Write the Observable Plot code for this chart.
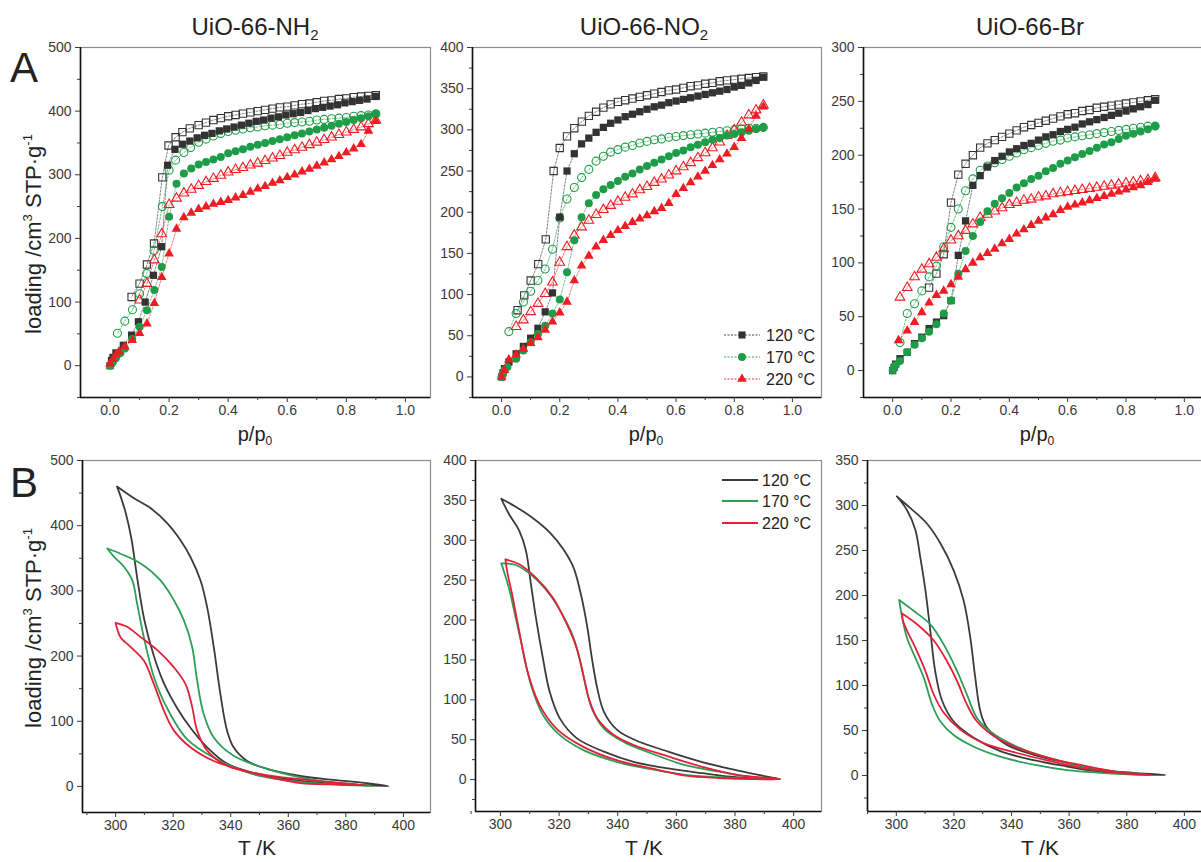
<!DOCTYPE html>
<html><head><meta charset="utf-8">
<script src="https://cdn.jsdelivr.net/npm/d3@7"></script>
<script src="https://cdn.jsdelivr.net/npm/@observablehq/plot@0.6"></script>
<style>
body{margin:0;background:#fff;}
#fig{position:relative;width:1201px;height:862px;overflow:hidden;background:#fff;font-family:"Liberation Sans",Arial,sans-serif;}
</style></head>
<body><div id="fig"></div>
<script>
// ---------- DATA: isotherms (p/p0, loading) ----------
const nh2_120_ads=[[0,0],[0.005,8],[0.01,13],[0.02,20],[0.045,32],[0.073,48],[0.096,69],[0.119,100],[0.147,142],[0.175,187],[0.195,315],[0.22,340],[0.245,348],[0.27,353],[0.295,358],[0.32,362],[0.345,365],[0.37,369],[0.395,372],[0.42,375],[0.445,378],[0.47,381],[0.495,384],[0.52,386],[0.545,389],[0.57,391],[0.595,394],[0.62,396],[0.645,398],[0.67,401],[0.695,404],[0.72,406],[0.745,408],[0.77,410],[0.795,413],[0.82,415],[0.845,417],[0.87,419],[0.9,423]];
const nh2_120_des=[[0.9,425],[0.875,424],[0.85,423],[0.825,422],[0.8,420],[0.775,419],[0.75,417],[0.725,416],[0.7,414],[0.675,412],[0.65,411],[0.625,409],[0.6,407],[0.575,406],[0.55,404],[0.525,402],[0.5,400],[0.475,398],[0.45,396],[0.425,394],[0.4,392],[0.375,389],[0.35,386],[0.325,382],[0.3,378],[0.27,373],[0.245,367],[0.222,359],[0.198,346],[0.177,296],[0.149,192],[0.125,159],[0.1,129],[0.073,108]];
const nh2_170_ads=[[0,0],[0.005,3],[0.01,6],[0.02,12],[0.035,20],[0.05,27],[0.075,42],[0.1,61],[0.125,87],[0.15,119],[0.175,155],[0.2,234],[0.225,286],[0.25,302],[0.275,310],[0.3,316],[0.325,320],[0.35,324],[0.375,328],[0.4,334],[0.425,337],[0.45,340],[0.475,344],[0.5,347],[0.525,350],[0.55,353],[0.575,356],[0.6,359],[0.625,362],[0.65,365],[0.675,368],[0.7,371],[0.725,374],[0.75,377],[0.775,380],[0.8,383],[0.825,386],[0.85,389],[0.875,392],[0.9,396]];
const nh2_170_des=[[0.9,396],[0.875,394],[0.85,393],[0.825,392],[0.8,390],[0.775,389],[0.75,388],[0.725,387],[0.7,386],[0.675,384],[0.65,383],[0.625,382],[0.6,381],[0.575,379],[0.55,378],[0.525,377],[0.5,375],[0.475,374],[0.45,372],[0.425,370],[0.4,368],[0.375,365],[0.35,361],[0.325,356],[0.3,351],[0.273,343],[0.25,335],[0.222,323],[0.2,307],[0.177,250],[0.149,181],[0.124,145],[0.1,113],[0.076,88],[0.05,70],[0.025,51]];
const nh2_220_ads=[[0,3],[0.01,10],[0.02,17],[0.03,22],[0.05,30],[0.075,40],[0.1,51],[0.125,66],[0.15,98],[0.175,139],[0.2,176],[0.225,215],[0.25,233],[0.275,240],[0.3,246],[0.325,250],[0.35,254],[0.375,257],[0.4,260],[0.425,264],[0.45,268],[0.475,273],[0.5,278],[0.525,282],[0.55,287],[0.575,291],[0.6,296],[0.625,300],[0.65,305],[0.675,309],[0.7,314],[0.725,319],[0.75,324],[0.775,329],[0.8,335],[0.825,341],[0.85,348],[0.875,369],[0.9,384]];
const nh2_220_des=[[0.9,386],[0.875,380],[0.85,375],[0.825,371],[0.8,367],[0.775,363],[0.75,359],[0.725,355],[0.7,351],[0.675,347],[0.65,343],[0.625,339],[0.6,335],[0.575,330],[0.55,326],[0.525,322],[0.5,318],[0.475,315],[0.45,311],[0.425,308],[0.4,304],[0.375,299],[0.35,294],[0.325,289],[0.3,283],[0.275,277],[0.25,271],[0.225,263],[0.2,253],[0.175,207],[0.15,166],[0.125,129],[0.1,103]];

const no2_120_ads=[[0,0],[0.005,5],[0.01,10],[0.025,18],[0.05,28],[0.075,37],[0.1,47],[0.125,59],[0.15,79],[0.175,102],[0.2,194],[0.225,250],[0.25,271],[0.275,283],[0.3,290],[0.325,297],[0.35,303],[0.375,308],[0.4,312],[0.425,316],[0.45,319],[0.475,322],[0.5,325],[0.525,328],[0.55,330],[0.575,333],[0.6,335],[0.625,337],[0.65,339],[0.675,341],[0.7,343],[0.725,345],[0.75,347],[0.775,349],[0.8,352],[0.825,354],[0.85,357],[0.875,360],[0.9,364]];
const no2_120_des=[[0.9,365],[0.875,364],[0.85,363],[0.825,362],[0.8,361],[0.775,360],[0.75,359],[0.725,357],[0.7,356],[0.675,354],[0.65,353],[0.625,351],[0.6,349],[0.575,348],[0.55,346],[0.525,344],[0.5,342],[0.475,340],[0.45,338],[0.425,336],[0.4,334],[0.375,331],[0.35,327],[0.325,322],[0.3,317],[0.276,310],[0.25,302],[0.225,292],[0.2,278],[0.179,250],[0.152,167],[0.126,137],[0.1,117],[0.078,99],[0.055,81]];
const no2_170_ads=[[0,0],[0.005,4],[0.01,8],[0.02,12],[0.05,22],[0.075,32],[0.1,42],[0.125,52],[0.15,62],[0.175,77],[0.2,94],[0.225,127],[0.25,166],[0.275,194],[0.3,211],[0.325,221],[0.35,228],[0.375,233],[0.4,238],[0.425,243],[0.45,247],[0.475,252],[0.5,256],[0.525,260],[0.55,264],[0.575,268],[0.6,272],[0.625,275],[0.65,279],[0.675,282],[0.7,285],[0.725,288],[0.75,290],[0.775,293],[0.8,295],[0.825,297],[0.85,299],[0.875,301],[0.9,303]];
const no2_170_des=[[0.9,303],[0.875,302],[0.85,302],[0.825,301],[0.8,300],[0.775,299],[0.75,298],[0.725,297],[0.7,296],[0.675,295],[0.65,294],[0.625,293],[0.6,292],[0.575,291],[0.55,289],[0.525,288],[0.5,286],[0.475,284],[0.45,281],[0.425,279],[0.4,276],[0.375,273],[0.35,268],[0.325,262],[0.3,252],[0.275,242],[0.25,230],[0.225,216],[0.2,193],[0.175,155],[0.15,131],[0.125,117],[0.1,104],[0.075,91],[0.05,77],[0.025,55]];
const no2_220_ads=[[0,0],[0.01,8],[0.025,21],[0.05,27],[0.075,34],[0.1,41],[0.125,48],[0.15,57],[0.175,67],[0.2,78],[0.225,91],[0.25,117],[0.275,135],[0.3,147],[0.325,158],[0.35,166],[0.375,172],[0.4,178],[0.425,183],[0.45,188],[0.475,192],[0.5,196],[0.525,201],[0.55,205],[0.575,211],[0.6,222],[0.625,229],[0.65,236],[0.675,243],[0.7,250],[0.725,257],[0.75,264],[0.775,271],[0.8,279],[0.825,290],[0.85,301],[0.875,317],[0.9,328]];
const no2_220_des=[[0.9,330],[0.875,324],[0.85,318],[0.825,309],[0.8,300],[0.775,293],[0.75,285],[0.725,278],[0.7,272],[0.675,266],[0.65,260],[0.625,255],[0.6,250],[0.575,245],[0.55,240],[0.525,236],[0.5,231],[0.475,227],[0.45,222],[0.425,218],[0.4,213],[0.375,208],[0.35,203],[0.325,197],[0.3,190],[0.275,182],[0.25,172],[0.225,158],[0.2,139],[0.175,115],[0.15,101],[0.125,89],[0.1,79],[0.075,69],[0.05,61]];

const br_120_ads=[[0,0],[0.005,3],[0.01,6],[0.025,11],[0.05,17],[0.075,25],[0.1,31],[0.125,39],[0.15,45],[0.175,51],[0.2,65],[0.225,107],[0.25,139],[0.275,172],[0.3,181],[0.325,189],[0.35,195],[0.375,199],[0.4,203],[0.425,206],[0.45,209],[0.475,211],[0.5,214],[0.525,217],[0.55,219],[0.575,222],[0.6,224],[0.625,226],[0.65,229],[0.675,231],[0.7,233],[0.725,235],[0.75,237],[0.775,239],[0.8,241],[0.825,243],[0.85,245],[0.875,247],[0.9,251]];
const br_120_des=[[0.9,252],[0.875,251],[0.85,250],[0.825,249],[0.8,248],[0.775,247],[0.75,246],[0.725,245],[0.7,244],[0.675,242],[0.65,241],[0.625,239],[0.6,238],[0.575,236],[0.55,234],[0.525,232],[0.5,230],[0.475,228],[0.45,226],[0.425,223],[0.4,220],[0.375,217],[0.35,214],[0.325,211],[0.3,207],[0.275,200],[0.25,192],[0.225,182],[0.2,156],[0.175,108],[0.15,90],[0.125,77]];
const br_170_ads=[[0,0],[0.005,3],[0.01,5],[0.025,9],[0.05,17],[0.075,24],[0.1,30],[0.125,36],[0.15,43],[0.175,53],[0.2,65],[0.225,90],[0.25,111],[0.275,125],[0.3,138],[0.325,148],[0.35,155],[0.375,160],[0.4,165],[0.425,170],[0.45,174],[0.475,178],[0.5,181],[0.525,185],[0.55,188],[0.575,192],[0.6,195],[0.625,198],[0.65,201],[0.675,204],[0.7,207],[0.725,210],[0.75,212],[0.775,215],[0.8,218],[0.825,220],[0.85,222],[0.875,224],[0.9,227]];
const br_170_des=[[0.9,227],[0.875,227],[0.85,226],[0.825,225],[0.8,224],[0.775,223],[0.75,222],[0.725,221],[0.7,220],[0.675,219],[0.65,218],[0.625,217],[0.6,216],[0.575,214],[0.55,213],[0.525,211],[0.5,209],[0.475,207],[0.45,205],[0.425,202],[0.4,199],[0.375,196],[0.35,193],[0.325,190],[0.3,186],[0.275,178],[0.25,167],[0.225,150],[0.2,133],[0.175,115],[0.15,97],[0.125,87],[0.1,74],[0.075,62],[0.05,53],[0.025,26]];
const br_220_ads=[[0.02,28],[0.05,37],[0.075,45],[0.1,54],[0.125,63],[0.15,70],[0.175,74],[0.2,80],[0.225,87],[0.25,94],[0.275,100],[0.3,105],[0.325,109],[0.35,113],[0.375,118],[0.4,122],[0.425,127],[0.45,131],[0.475,135],[0.5,139],[0.525,142],[0.55,145],[0.575,149],[0.6,152],[0.625,154],[0.65,156],[0.675,158],[0.7,160],[0.725,162],[0.75,164],[0.775,166],[0.8,168],[0.825,170],[0.85,172],[0.875,175],[0.9,178]];
const br_220_des=[[0.9,179],[0.875,177],[0.85,176],[0.825,175],[0.8,174],[0.775,173],[0.75,172],[0.725,171],[0.7,170],[0.675,169],[0.65,168],[0.625,167],[0.6,166],[0.575,165],[0.55,164],[0.525,162],[0.5,161],[0.475,159],[0.45,158],[0.425,156],[0.4,154],[0.375,151],[0.35,148],[0.325,145],[0.3,142],[0.275,136],[0.25,130],[0.225,125],[0.2,121],[0.175,113],[0.15,105],[0.125,99],[0.1,94],[0.075,87],[0.05,77],[0.025,68]];

// ---------- DATA: hysteresis loops (T/K, loading) ----------
const nh2_loop_120=[[300.5,460],[306.4,442],[312.1,427],[317.9,404],[322.5,378],[326,352],[329.5,316],[331.8,275],[334.1,214],[336.4,142],[338.7,86],[341,60],[345.7,39],[352.6,27],[364.2,16],[375.7,10],[387.3,5],[394.8,0.5],[381.5,3],[370,6],[358.4,12],[346.8,22],[338.7,35],[331.8,60],[326,90],[321.4,120],[316.8,158],[313.3,200],[310,255],[307.5,320],[305.5,380],[303.5,420],[301.5,448],[300.5,460]];
const nh2_loop_170=[[297.1,365],[301.7,357],[308.7,342],[315.6,316],[320.2,286],[323.7,255],[326.6,214],[328.3,163],[330.6,111],[334.1,75],[341,47],[352.6,27],[364.2,14],[375.7,6],[389.6,0.5],[375.7,3],[364.2,7],[352.6,14],[346.8,20],[334.1,44],[324.9,72],[317.9,120],[313.3,168],[309.8,229],[307.5,280],[305.8,316],[302.9,337],[299.5,352],[297.1,365]];
const nh2_loop_220=[[300,251],[304,245],[308.7,229],[314.5,209],[320.2,183],[324.3,157],[326.6,122],[328.3,86],[331.8,55],[338.7,32],[350.3,19],[364.2,11],[375.7,6],[387.3,1.5],[375.7,3],[364.2,5],[346.8,22],[334.1,39],[326,60],[320.2,86],[316.8,116],[313.3,157],[309.8,193],[305.2,214],[301.7,229],[300,251]];
const no2_loop_120=[[300.3,352],[305.2,342],[311,328],[316.8,310],[321.4,289],[324.9,266],[327.2,236],[329.5,194],[331.2,152],[333,115],[335.3,85],[339.9,62],[345.7,50],[357.2,35],[368.8,22],[380.3,12],[391.9,3],[395.4,0.5],[380.3,3],[368.8,8],[357.2,14],[345.7,22],[335.3,35],[326,52],[320.2,77],[316.8,110],[314.5,152],[312.1,203],[310.4,245],[308.7,287],[306.4,312],[302.9,333],[300.3,352]];
const no2_loop_170=[[300.3,271],[305.2,269],[311,255],[316.8,232],[321.4,205],[324.9,178],[327.2,148],[329,119],[331.2,89],[335.3,64],[342.2,47],[351.4,33],[363,18],[374.6,10],[386.1,3],[395.4,0.5],[386.1,1],[374.6,3],[363,6],[351.4,13],[339.9,22],[328.3,37],[320.2,56],[314.5,81],[310.4,119],[307.5,165],[305.2,203],[302.9,240],[301.2,261],[300.3,271]];
const no2_loop_220=[[301.7,276],[306.4,270],[312.1,253],[317.9,228],[322.5,196],[326,165],[328.3,131],[330.1,102],[333,77],[338.7,56],[345.7,43],[357.2,29],[368.8,16],[380.3,6],[395.4,0.5],[386.1,0.5],[374.6,2],[363,5],[351.4,14],[339.9,24],[328.3,41],[319.1,64],[313.3,94],[309.2,136],[306.4,186],[304,232],[302.3,261],[301.7,276]];
const br_loop_120=[[300.2,310],[304.9,297],[310.6,280],[315.3,258],[319.9,228],[323.4,194],[325.7,153],[327.4,109],[329.2,71],[331.5,53],[338.4,34],[347.7,23],[359.3,14],[370.8,6],[382.4,3],[393.4,0.5],[382.4,1.5],[370.8,4],[359.3,10],[347.7,17],[336.1,27],[326.9,42],[319.9,60],[315.9,83],[313.5,116],[311.8,161],[310.1,206],[308.3,243],[306.6,273],[303.7,295],[300.2,310]];
const br_loop_170=[[301,195],[306,183],[311.8,168],[316.4,146],[321.1,116],[324.5,90],[328,64],[332.6,49],[341.9,32],[353.5,19],[365,10],[376.6,4],[388.2,0.5],[382.4,1],[370.8,3],[359.3,6],[347.7,12],[336.1,21],[326.9,32],[319.9,45],[315.3,60],[312.4,79],[309.5,109],[306.6,131],[303.7,153],[302,176],[301,195]];
const br_loop_220=[[302,180],[307.2,168],[313,150],[317.6,127],[321.1,105],[324.5,79],[328,60],[333.8,44],[341.9,31],[353.5,19],[365,11],[376.6,4],[388.2,0.5],[376.6,3],[365,8],[353.5,16],[341.9,25],[330.3,36],[322.2,51],[316.4,70],[313,90],[310.1,116],[306.6,142],[303.7,161],[302.3,172],[302,180]];

// ---------- labels ----------
const temps=["120 °C","170 °C","220 °C"];
const materials=[["UiO-66-NH","2"],["UiO-66-NO","2"],["UiO-66-Br",""]];
const pTicks=[0,0.2,0.4,0.6,0.8,1.0];
const pMinor=[0.1,0.3,0.5,0.7,0.9];
const tTicks=[300,320,340,360,380,400];
const tMinor=[290,310,330,350,370,390];

const markColors=["#333333","#1e9d48","#ee1d24"];
const lineColors=["#3b3b3b","#2c9e55","#e2203a"];
const symbols=["square","circle","triangle"];

const fig=document.getElementById("fig");
const pts=a=>a.map(([x,y])=>({x,y}));

function axes(cfg, xt, xm, xfmt){
  return [
    Plot.frame({stroke:"#8c8c8c",strokeWidth:1.2}),
    Plot.ruleX([cfg.xd[0]],{stroke:"#111",strokeWidth:1.6}),
    Plot.ruleY([cfg.yd[0]],{stroke:"#111",strokeWidth:1.6}),
    Plot.axisX(xt,{tickSize:5,tickPadding:3,fontSize:14,label:null,tickFormat:xfmt}),
    Plot.axisX(xm,{tickSize:3,label:null,tickFormat:()=>""}),
    Plot.axisY(cfg.yt,{tickSize:5,tickPadding:4,fontSize:14,label:null,tickFormat:d=>String(d)}),
    Plot.axisY(cfg.ym,{tickSize:3,label:null,tickFormat:()=>""})
  ];
}

function place(svg,cfg,ml,mt){
  svg.style.position="absolute";
  svg.style.left=(cfg.left-ml)+"px";
  svg.style.top=(cfg.top-mt)+"px";
  fig.appendChild(svg);
}

const ML=50,MT=6,MR=6,MB=34;
const plotStyle={fontFamily:"Liberation Sans, Arial, sans-serif",color:"#3a3a3a",background:"transparent",overflow:"visible"};
function isoPanel(cfg,series){
  const marks=[];
  series.forEach((s,i)=>{
    marks.push(Plot.line(pts(s.ads),{x:"x",y:"y",stroke:markColors[i],strokeWidth:0.8,strokeDasharray:"2,1.5",strokeOpacity:0.75}));
    marks.push(Plot.line(pts(s.des),{x:"x",y:"y",stroke:markColors[i],strokeWidth:0.8,strokeDasharray:"2,1.5",strokeOpacity:0.75}));
  });
  series.forEach((s,i)=>{
    const r=symbols[i]==="triangle"?3.6:(symbols[i]==="square"?4.1:4);
    marks.push(Plot.dot(pts(s.des),{x:"x",y:"y",symbol:symbols[i],r,fill:"none",stroke:markColors[i],strokeWidth:1.1}));
  });
  series.forEach((s,i)=>{
    const r=symbols[i]==="triangle"?3.6:(symbols[i]==="square"?4.1:4);
    marks.push(Plot.dot(pts(s.ads),{x:"x",y:"y",symbol:symbols[i],r,fill:markColors[i],stroke:"none"}));
  });
  const svg=Plot.plot({
    width:ML+cfg.w+MR,height:MT+cfg.h+MB,
    marginLeft:ML,marginTop:MT,marginRight:MR,marginBottom:MB,
    x:{domain:cfg.xd},y:{domain:cfg.yd},
    style:plotStyle,
    marks:[...marks,...axes(cfg,pTicks,pMinor,d3.format(".1f"))]
  });
  place(svg,cfg,ML,MT);
}

function loopPanel(cfg,loops){
  const marks=loops.map((l,i)=>Plot.line(pts(l),{x:"x",y:"y",stroke:lineColors[i],strokeWidth:1.8,curve:"catmull-rom"}));
  const svg=Plot.plot({
    width:ML+cfg.w+MR,height:MT+cfg.h+MB,
    marginLeft:ML,marginTop:MT,marginRight:MR,marginBottom:MB,
    x:{domain:cfg.xd},y:{domain:cfg.yd},
    style:plotStyle,
    marks:[...marks,...axes(cfg,tTicks,tMinor,d=>String(d))]
  });
  place(svg,cfg,ML,MT);
}

const range=(a,b,s)=>d3.range(a,b+s/2,s);

isoPanel({left:80,top:47,w:350,h:350,xd:[-0.1,1.085],yd:[-50,500],yt:range(0,500,100),ym:range(-50,450,100)},
  [{ads:nh2_120_ads,des:nh2_120_des},{ads:nh2_170_ads,des:nh2_170_des},{ads:nh2_220_ads,des:nh2_220_des}]);
isoPanel({left:472,top:47,w:349,h:350,xd:[-0.1,1.1],yd:[-25,400],yt:range(0,400,50),ym:range(-25,375,50)},
  [{ads:no2_120_ads,des:no2_120_des},{ads:no2_170_ads,des:no2_170_des},{ads:no2_220_ads,des:no2_220_des}]);
isoPanel({left:863,top:47,w:350,h:350,xd:[-0.1,1.1],yd:[-25,300],yt:range(0,300,50),ym:range(-25,275,50)},
  [{ads:br_120_ads,des:br_120_des},{ads:br_170_ads,des:br_170_des},{ads:br_220_ads,des:br_220_des}]);

loopPanel({left:82,top:460,w:348,h:352,xd:[288.5,409.4],yd:[-40,500],yt:range(0,500,100),ym:range(50,450,100)},[nh2_loop_120,nh2_loop_170,nh2_loop_220]);
loopPanel({left:475,top:460,w:346,h:351,xd:[291.5,409.5],yd:[-40,400],yt:range(0,400,50),ym:range(-25,375,50)},[no2_loop_120,no2_loop_170,no2_loop_220]);
loopPanel({left:867,top:460,w:348,h:351,xd:[290,410.8],yd:[-40,350],yt:range(0,350,50),ym:range(-25,325,50)},[br_loop_120,br_loop_170,br_loop_220]);

// ---------- overlay texts & legends ----------
const ov=d3.create("svg").attr("width",1201).attr("height",862)
  .style("position","absolute").style("left","0px").style("top","0px")
  .style("font-family","Liberation Sans, Arial, sans-serif").style("pointer-events","none");
const titleX=[255,644,1030];
materials.forEach(([a,b],i)=>{
  const t=ov.append("text").attr("x",titleX[i]).attr("y",35).attr("text-anchor","middle").attr("font-size",24).attr("fill","#222");
  t.append("tspan").text(a);
  if(b) t.append("tspan").attr("dy",5).attr("font-size",15).text(b);
});
ov.append("text").attr("x",10).attr("y",82).attr("font-size",42).attr("fill","#222").text("A");
ov.append("text").attr("x",10).attr("y",497).attr("font-size",42).attr("fill","#222").text("B");

function yLabel(cy){
  const t=ov.append("text").attr("transform",`translate(41,${cy}) rotate(-90)`).attr("text-anchor","middle").attr("font-size",22).attr("fill","#222");
  t.append("tspan").text("loading /cm");
  t.append("tspan").attr("dy",-9).attr("font-size",13).text("3");
  t.append("tspan").attr("dy",9).text(" STP·g");
  t.append("tspan").attr("dy",-9).attr("font-size",13).text("-1");
}
yLabel(234); yLabel(628);

const pX=[255,646,1037];
pX.forEach(x=>{
  const t=ov.append("text").attr("x",x).attr("y",441).attr("text-anchor","middle").attr("font-size",20).attr("fill","#222");
  t.append("tspan").text("p/p");
  t.append("tspan").attr("dy",4).attr("font-size",12).text("0");
});
const tX=[257,644,1040];
tX.forEach(x=>ov.append("text").attr("x",x).attr("y",855).attr("text-anchor","middle").attr("font-size",21).attr("fill","#222").text("T /K"));

// legend A (markers with dotted lines)
const legA=[335,357,379];
temps.forEach((lab,i)=>{
  ov.append("line").attr("x1",724).attr("x2",760).attr("y1",legA[i]).attr("y2",legA[i])
    .attr("stroke",markColors[i]).attr("stroke-width",0.9).attr("stroke-dasharray","2,1.5");
  const sym=d3.symbol().type([d3.symbolSquare,d3.symbolCircle,d3.symbolTriangle][i]).size(i===2?Math.PI*3.6*3.6:Math.PI*16);
  ov.append("path").attr("d",sym()).attr("transform",`translate(742,${legA[i]})`).attr("fill",markColors[i]);
  ov.append("text").attr("x",766).attr("y",legA[i]+6).attr("font-size",16).attr("fill","#222").text(lab);
});
// legend B (solid lines)
const legB=[480,501,523];
temps.forEach((lab,i)=>{
  ov.append("line").attr("x1",722).attr("x2",758).attr("y1",legB[i]).attr("y2",legB[i])
    .attr("stroke",lineColors[i]).attr("stroke-width",2);
  ov.append("text").attr("x",762).attr("y",legB[i]+6).attr("font-size",16).attr("fill","#222").text(lab);
});
fig.appendChild(ov.node());
</script>
</body></html>
